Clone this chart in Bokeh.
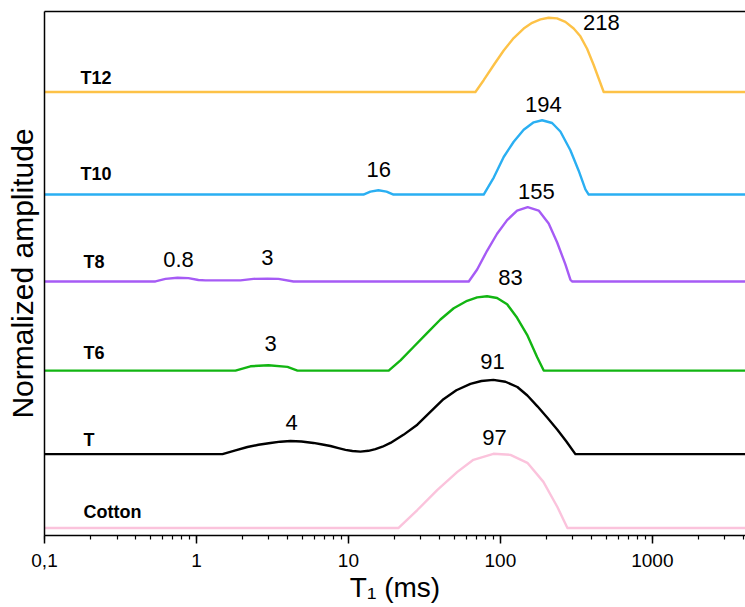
from bokeh.plotting import figure
from bokeh.models import (LogTicker, CustomJSTickFormatter, Range1d, LogAxis,
                          ColumnDataSource, FixedTicker)
from bokeh.core.properties import value
from bokeh.embed import file_html
from bokeh.resources import INLINE

# ---------------- data ----------------
samples = ["Cotton", "T", "T6", "T8", "T10", "T12"]
colors = ["#FBC3DC", "#000000", "#12B512", "#A65BF5", "#2AAFF2", "#FDC247"]
offsets = [0.10, 1.095, 2.22, 3.42, 4.59, 5.97]

cotton_t1 = [0.1, 21.3, 28.4, 38.5, 52.1, 66.4, 89.9, 116.4, 150.5, 191.8, 237.1, 276, 5000]
cotton_amp = [0, 0, 0.243, 0.514, 0.757, 0.919, 1.0, 0.986, 0.878, 0.622, 0.284, 0, 0]

t_t1 = [0.1, 1.483, 1.806, 2.165, 2.558, 3.068, 3.569, 4.153, 4.908, 5.886, 6.743,
        7.614, 8.596, 9.56, 10.62, 11.99, 13.54, 15.05, 16.74, 18.9, 23.0, 28.4,
        34.6, 42.2, 51.3, 63.5, 75.0, 89.9, 107.9, 129.3, 150.5, 175.2, 203.8,
        237.1, 271.8, 311.5, 5000]
t_amp = [0, 0, 0.05, 0.096, 0.127, 0.151, 0.168, 0.178, 0.171, 0.151, 0.13,
         0.11, 0.082, 0.058, 0.042, 0.034, 0.045, 0.068, 0.1, 0.151, 0.26, 0.397,
         0.57, 0.74, 0.86, 0.945, 0.985, 1.0, 0.975, 0.904, 0.79, 0.644, 0.49,
         0.329, 0.17, 0, 0]

t6_t1 = [0.1, 1.806, 2.266, 2.977, 3.97, 4.62, 18.4, 22.0, 26.9, 32.9, 40.3, 49.3,
         60.4, 70.3, 81.7, 95.1, 110.7, 128.8, 149.9, 174.3, 192.7, 5000]
t6_amp = [0, 0, 0.058, 0.072, 0.05, 0, 0, 0.138, 0.321, 0.505, 0.688, 0.839,
          0.94, 0.986, 1.0, 0.977, 0.894, 0.711, 0.482, 0.183, 0, 0]

t8_t1 = [0.1, 0.537, 0.625, 0.75, 0.885, 1.03, 1.146, 1.947, 2.37, 2.93, 3.46, 4.35,
         61.9, 70.3, 81.7, 95.1, 110.7, 128.8, 151.2, 178.6, 207.8, 236, 267.7,
         288.7, 296.3, 5000]
t8_amp = [0, 0, 0.035, 0.05, 0.045, 0.02, 0.014, 0.014, 0.035, 0.038, 0.035, 0,
          0, 0.161, 0.413, 0.642, 0.826, 0.954, 1.0, 0.954, 0.78, 0.528, 0.229,
          0.023, 0, 0]

t10_t1 = [0.1, 12.55, 13.95, 15.75, 17.8, 19.8, 77.6, 90.4, 105.1, 122.3, 142.3,
          165.6, 188.1, 218.9, 248.1, 288.7, 327.4, 362.5, 381, 5000]
t10_amp = [0, 0, 0.04, 0.058, 0.04, 0, 0, 0.229, 0.505, 0.711, 0.872,
           0.972, 1.0, 0.963, 0.849, 0.596, 0.321, 0.069, 0, 0]

t12_t1 = [0.1, 68.5, 77.6, 90.4, 105.1, 122.3, 142.3, 161.7, 183.4, 207.8, 236,
          267.7, 303.5, 336, 371.9, 411, 443.3, 478.2, 5000]
t12_amp = [0, 0, 0.159, 0.364, 0.559, 0.727, 0.855, 0.932, 0.977, 1.0, 0.991,
           0.945, 0.855, 0.75, 0.582, 0.364, 0.182, 0, 0]

curves_t1 = [cotton_t1, t_t1, t6_t1, t8_t1, t10_t1, t12_t1]
curves_amp = [cotton_amp, t_amp, t6_amp, t8_amp, t10_amp, t12_amp]

# peak value labels (text, T1 position in ms, height)
peak_texts = ["218", "194", "16", "155", "83", "91", "97", "4", "3", "3", "0.8"]
peak_x = [461, 192, 15.8, 172.6, 116.4, 88.6, 91.4, 4.22, 3.07, 2.93, 0.761]
peak_y = [6.905, 5.797, 4.932, 4.635, 3.473, 2.338, 1.324, 1.527, 2.581, 3.743, 3.716]

# sample name labels
name_x = [0.1807, 0.1807, 0.1807, 0.1807, 0.1725, 0.1725]
name_y = [0.311, 1.284, 2.459, 3.676, 4.865, 6.162]

FONT = "Liberation Sans"

p = figure(width=745, height=607, x_axis_type="log",
           x_range=Range1d(0.1, 4100), y_range=Range1d(0, 7.054),
           output_backend="svg", toolbar_location=None,
           min_border_left=44, min_border_right=0, min_border_top=11,
           min_border_bottom=72)

for t1, amp, off, c in zip(curves_t1, curves_amp, offsets, colors):
    p.line([float(v) for v in t1], [off + a for a in amp], line_color=c,
           line_width=2.4, line_join="round")

src_peaks = ColumnDataSource(dict(x=peak_x, y=peak_y, t=peak_texts))
p.text(x="x", y="y", text="t", source=src_peaks, text_align="center",
       text_baseline="middle", text_font=value(FONT), text_font_size="22px",
       text_color="#000000")

src_names = ColumnDataSource(dict(x=name_x, y=name_y, t=samples))
p.text(x="x", y="y", text="t", source=src_names, text_align="left",
       text_baseline="middle", text_font=value(FONT), text_font_size="18px",
       text_font_style="bold", text_color="#000000")

p.grid.visible = False
p.outline_line_color = None
p.background_fill_color = "white"
p.border_fill_color = "white"

xa = p.xaxis[0]
xa.ticker = LogTicker(mantissas=[1], desired_num_ticks=6, num_minor_ticks=10)
xa.formatter = CustomJSTickFormatter(code="""
    if (tick < 1) { return String(tick).replace('.', ','); }
    return Math.round(tick).toString();
""")
xa.axis_label = "T\u2081 (ms)"
xa.axis_label_text_font = FONT
xa.axis_label_text_font_size = "28px"
xa.axis_label_text_font_style = "normal"
xa.axis_label_text_color = "#000000"
xa.axis_label_standoff = 2
xa.major_label_text_font = FONT
xa.major_label_text_font_size = "19px"
xa.major_label_text_color = "#000000"
xa.major_label_standoff = 10
xa.major_tick_in = 0
xa.major_tick_out = 8
xa.minor_tick_in = 0
xa.minor_tick_out = 4
xa.axis_line_width = 1.5
xa.major_tick_line_width = 1.5
xa.minor_tick_line_width = 1.2
xa.axis_line_color = "#000000"
xa.major_tick_line_color = "#000000"
xa.minor_tick_line_color = "#000000"

ya = p.yaxis[0]
ya.ticker = FixedTicker(ticks=[])
ya.axis_label = "Normalized amplitude"
ya.axis_label_text_font = FONT
ya.axis_label_text_font_size = "30px"
ya.axis_label_text_font_style = "normal"
ya.axis_label_text_color = "#000000"
ya.axis_label_standoff = 6
ya.major_tick_out = 0
ya.major_tick_in = 0
ya.minor_tick_out = 0
ya.minor_tick_in = 0
ya.major_label_standoff = 0
ya.axis_line_width = 1.5
ya.axis_line_color = "#000000"

top = LogAxis(ticker=FixedTicker(ticks=[]), axis_line_width=1.5,
              axis_line_color="#000000",
              major_tick_out=0, major_tick_in=0, minor_tick_out=0, minor_tick_in=0,
              major_label_standoff=0)
p.add_layout(top, "above")

open("out.html", "w").write(file_html(p, INLINE))
